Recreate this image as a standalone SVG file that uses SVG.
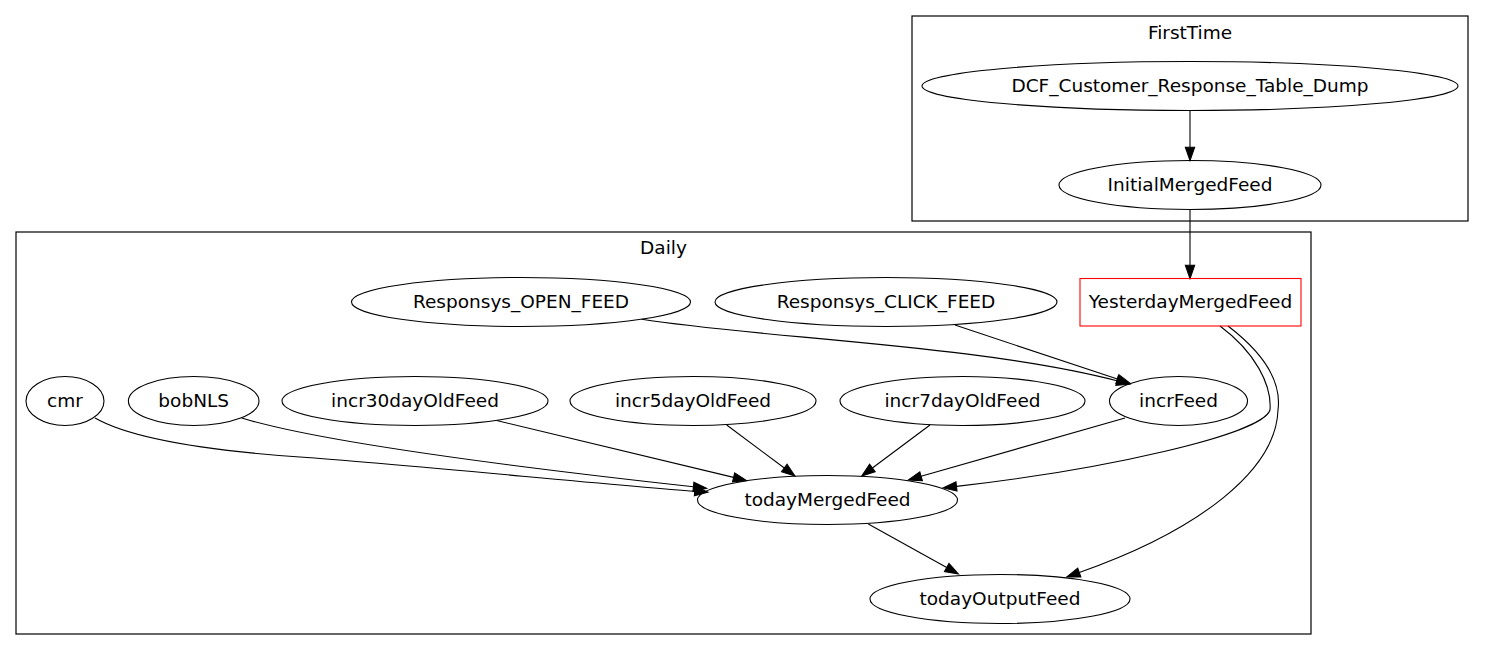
<svg xmlns="http://www.w3.org/2000/svg" width="1485" height="651" viewBox="0 0 1485 651">
<style>
text { font-family: "DejaVu Sans", "Liberation Sans", sans-serif; font-size: 18.5px; text-anchor: middle; fill: #000; }
.cluster { fill: none; stroke: #000; stroke-width: 1.2; }
.node ellipse { fill: none; stroke: #000; stroke-width: 1.1; }
.box { fill: none; stroke: #ff0000; stroke-width: 1.1; }
.edge { fill: none; stroke: #000; stroke-width: 1.1; marker-end: url(#arrow); }
</style>
<defs>
<marker id="arrow" viewBox="0 0 10 7" refX="0" refY="3.5" markerWidth="13.33" markerHeight="9.33" markerUnits="userSpaceOnUse" orient="auto" overflow="visible">
<path d="M0,0 L10,3.5 L0,7 Z" fill="#000" stroke="#000" stroke-width="0.8"/>
</marker>
</defs>
<rect x="0" y="0" width="1485" height="651" fill="#fff"/>

<g id="cluster_FirstTime">
<rect class="cluster" x="912" y="16" width="556" height="205"/>
<text x="1190" y="38.5">FirstTime</text>
</g>
<g id="cluster_Daily">
<rect class="cluster" x="16" y="232" width="1295" height="402"/>
<text x="663.5" y="254">Daily</text>
</g>

<g id="edges">
<path class="edge" d="M1190,110.7 L1190,147.3"/>
<path class="edge" d="M1190,209.5 L1190,265.3"/>
<path class="edge" d="M641.7,319.3 C760,338 980,345 1117,380.8"/>
<path class="edge" d="M955,325 L1117.4,379.1"/>
<path class="edge" d="M95,418 C130,438 200,450 300,457 S620,486 694.7,491.2"/>
<path class="edge" d="M241.7,418 C300,436 450,460 693.4,486.8"/>
<path class="edge" d="M496.7,420.5 L733.6,477.4"/>
<path class="edge" d="M726.7,425 L784.3,468"/>
<path class="edge" d="M930,425 L872.4,468"/>
<path class="edge" d="M1125,418 L921.1,476.3"/>
<path class="edge" d="M1220,326 C1255,352 1272,385 1270,410 C1262,435 1100,470 956.5,486.4"/>
<path class="edge" d="M1228,326 C1262,352 1282,380 1278,410 C1276,470 1200,530 1079.3,572.5"/>
<path class="edge" d="M868.3,524 L946.7,567.5"/>
</g>

<g id="node_DCF_Customer_Response_Table_Dump" class="node">
<ellipse cx="1190" cy="86" rx="268" ry="24.5"/>
<text x="1190" y="92">DCF_Customer_Response_Table_Dump</text>
</g>
<g id="node_InitialMergedFeed" class="node">
<ellipse cx="1190" cy="185" rx="131" ry="24.5"/>
<text x="1190" y="191">InitialMergedFeed</text>
</g>
<g id="node_YesterdayMergedFeed" class="node">
<rect class="box" x="1080" y="278.5" width="221" height="47.5"/>
<text x="1190.5" y="308">YesterdayMergedFeed</text>
</g>
<g id="node_Responsys_OPEN_FEED" class="node">
<ellipse cx="521" cy="302" rx="169.5" ry="24.5"/>
<text x="521" y="308">Responsys_OPEN_FEED</text>
</g>
<g id="node_Responsys_CLICK_FEED" class="node">
<ellipse cx="886" cy="302" rx="171" ry="24.5"/>
<text x="886" y="308">Responsys_CLICK_FEED</text>
</g>
<g id="node_cmr" class="node">
<ellipse cx="65" cy="401" rx="39" ry="24.5"/>
<text x="65" y="407">cmr</text>
</g>
<g id="node_bobNLS" class="node">
<ellipse cx="193.7" cy="401" rx="65.3" ry="24.5"/>
<text x="193.7" y="407">bobNLS</text>
</g>
<g id="node_incr30dayOldFeed" class="node">
<ellipse cx="415" cy="401" rx="133" ry="24.5"/>
<text x="415" y="407">incr30dayOldFeed</text>
</g>
<g id="node_incr5dayOldFeed" class="node">
<ellipse cx="693" cy="401" rx="123" ry="24.5"/>
<text x="693" y="407">incr5dayOldFeed</text>
</g>
<g id="node_incr7dayOldFeed" class="node">
<ellipse cx="962.5" cy="401" rx="122.5" ry="24.5"/>
<text x="962.5" y="407">incr7dayOldFeed</text>
</g>
<g id="node_incrFeed" class="node">
<ellipse cx="1178.5" cy="401" rx="69" ry="24.5"/>
<text x="1178.5" y="407">incrFeed</text>
</g>
<g id="node_todayMergedFeed" class="node">
<ellipse cx="827.5" cy="500" rx="130" ry="24.5"/>
<text x="827.5" y="506">todayMergedFeed</text>
</g>
<g id="node_todayOutputFeed" class="node">
<ellipse cx="1000" cy="599" rx="130" ry="24.5"/>
<text x="1000" y="605">todayOutputFeed</text>
</g>
</svg>
